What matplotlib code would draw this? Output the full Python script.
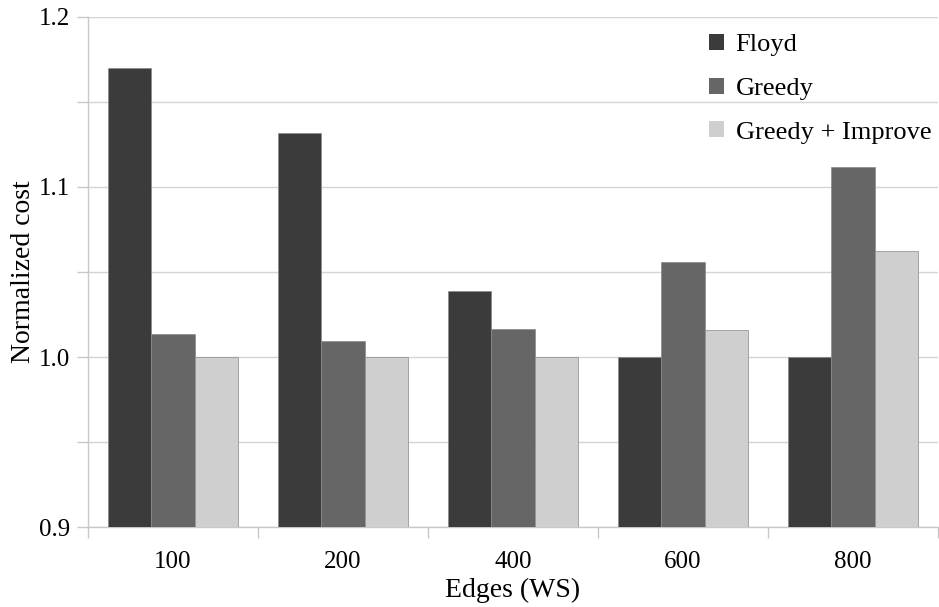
import matplotlib
matplotlib.use("Agg")
import matplotlib.pyplot as plt
import numpy as np
from matplotlib.ticker import MultipleLocator, NullFormatter

categories = ["100", "200", "400", "600", "800"]
floyd = [1.170, 1.132, 1.039, 1.000, 1.000]
greedy = [1.0135, 1.0095, 1.0165, 1.056, 1.112]
greedy_improve = [1.000, 1.000, 1.000, 1.016, 1.0625]

plt.rcParams["font.family"] = ["Liberation Serif", "DejaVu Serif"]

fig = plt.figure(figsize=(9.39, 6.07), dpi=100)
ax = fig.add_axes([88 / 939, 80 / 607, 850 / 939, 510 / 607])

x = np.arange(len(categories))
w = 0.253
series = [
    ("Floyd", floyd, "#3b3b3b"),
    ("Greedy", greedy, "#666666"),
    ("Greedy + Improve", greedy_improve, "#cfcfcf"),
]
for i, (name, vals, col) in enumerate(series):
    ax.bar(x + (i - 1) * w, np.array(vals) - 0.9, width=w, bottom=0.9,
           color=col, edgecolor="#8a8a8a", linewidth=0.5, label=name, zorder=3)

ax.set_xlim(-0.5, len(categories) - 0.5)
ax.set_ylim(0.9, 1.2)
ax.yaxis.set_major_locator(MultipleLocator(0.1))
ax.yaxis.set_minor_locator(MultipleLocator(0.05))
ax.yaxis.set_minor_formatter(NullFormatter())
ax.set_yticklabels([f"{v:.1f}" for v in ax.get_yticks()])
ax.grid(axis="y", which="both", color="#d4d4d4", linewidth=1.0, zorder=0)

ax.set_xticks(x)
ax.set_xticklabels(categories)
ax.set_xticks(np.arange(len(categories) + 1) - 0.5, minor=True)
ax.tick_params(axis="x", which="major", length=0, pad=17, labelsize=18)
ax.tick_params(axis="x", which="minor", length=8, color="#c8c8c8", width=1.0)
ax.tick_params(axis="y", which="both", length=8, color="#c8c8c8", width=1.0,
               pad=5, labelsize=18)

for s in ["top", "right"]:
    ax.spines[s].set_visible(False)
for s in ["left", "bottom"]:
    ax.spines[s].set_color("#c8c8c8")
    ax.spines[s].set_linewidth(1.0)

ax.set_ylabel("Normalized cost", fontsize=20, labelpad=2)
ax.set_xlabel("Edges (WS)", fontsize=20, labelpad=4)

leg = ax.legend(loc="upper right", bbox_to_anchor=(1.006, 0.99), frameon=False,
                fontsize=19, handlelength=0.57, handleheight=0.57,
                labelspacing=0.8, handletextpad=0.45, borderpad=0,
                borderaxespad=0.45)
for h in leg.legend_handles:
    h.set_linewidth(0)

fig.savefig("out.png", dpi=100, facecolor="white")
